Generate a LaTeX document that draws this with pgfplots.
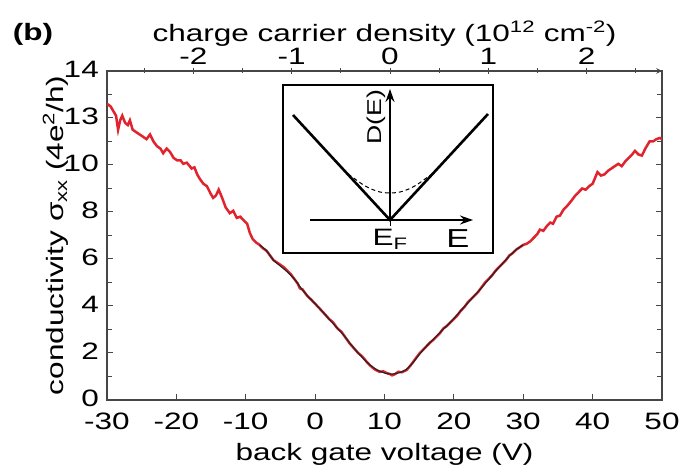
\documentclass[border=0pt]{standalone}
\usepackage{fontspec}
\setmainfont{Liberation Sans}[FakeStretch=1.33]
\usepackage{pgfplots}
\pgfplotsset{compat=1.18}
\usetikzlibrary{arrows.meta}

\definecolor{curvered}{RGB}{225,35,45}
\definecolor{framegray}{RGB}{70,70,70}

% measured conductivity (red, noisy)
\pgfplotstableread{
V sigma
-30.0 12.6
-29.5 12.5
-29.1 12.3
-28.7 12.1
-28.4 11.5
-28.1 11.9
-27.8 12.1
-27.4 11.8
-27.0 11.7
-26.7 11.9
-26.3 11.5
-25.8 11.4
-25.3 11.3
-24.8 11.2
-24.3 11.1
-23.8 11.3
-23.3 11.0
-22.8 10.8
-22.3 10.7
-21.9 10.5
-21.4 10.7
-20.9 10.55
-20.4 10.3
-19.9 10.2
-19.4 10.2
-19.0 10.05
-18.5 10.1
-17.8 9.85
-17.4 9.9
-17.0 9.6
-16.6 9.4
-16.1 9.2
-15.6 9.1
-15.1 8.8
-14.7 8.6
-14.3 8.7
-13.9 8.95
-13.4 8.6
-12.9 8.2
-12.3 7.95
-11.8 8.05
-11.3 7.75
-10.8 7.8
-10.3 7.65
-9.8 7.5
-9.4 7.1
-9.0 6.85
-8.5 6.7
-8.0 6.6
-7.5 6.45
-7.0 6.35
-6.5 6.15
-6.0 5.95
-5.5 5.85
-5.0 5.75
-4.5 5.65
-4.0 5.5
-3.5 5.35
-3.0 5.15
-2.5 4.95
-2.2 4.75
-1.8 4.7
-1.2 4.45
-0.5 4.25
0.3 4.0
1.0 3.78
1.5 3.62
2.0 3.45
2.6 3.3
3.2 3.05
3.8 2.9
4.4 2.65
5.0 2.4
5.6 2.2
6.2 2.0
6.8 1.85
7.5 1.6
8.0 1.45
8.6 1.3
9.3 1.2
9.8 1.22
10.3 1.15
10.8 1.1
11.1 1.05
11.5 1.1
12.0 1.2
12.5 1.18
13.2 1.28
13.7 1.45
14.2 1.65
14.7 1.85
15.1 2.0
15.6 2.15
16.1 2.3
16.6 2.45
17.0 2.55
17.5 2.7
18.0 2.85
18.5 3.05
19.0 3.15
19.5 3.3
20.0 3.45
20.5 3.6
21.0 3.8
21.5 3.95
22.0 4.15
22.5 4.3
23.0 4.45
23.5 4.6
24.0 4.8
24.5 5.0
25.0 5.15
25.5 5.3
26.0 5.5
26.5 5.65
27.0 5.8
27.5 5.95
28.0 6.15
28.5 6.25
29.0 6.4
29.5 6.5
30.0 6.6
30.5 6.65
31.0 6.75
31.5 6.9
32.0 7.05
32.4 7.25
32.9 7.2
33.4 7.4
33.9 7.55
34.3 7.5
34.8 7.8
35.3 7.85
35.8 8.1
36.3 8.25
37.0 8.5
37.5 8.7
38.0 8.85
38.5 9.0
39.0 8.95
39.5 9.1
40.0 9.2
40.7 9.7
41.2 9.55
41.7 9.6
42.2 9.75
42.7 9.85
43.2 9.95
43.7 10.05
44.2 9.95
44.7 10.15
45.2 10.3
45.7 10.45
46.1 10.6
46.6 10.45
47.1 10.4
47.6 10.7
48.2 11.0
48.7 11.0
49.2 11.1
49.7 11.15
50.0 11.1
}\measured

% fit (black)
\pgfplotstableread{
V sigma
-8 6.6
-7 6.35
-6 5.95
-5 5.7
-4 5.45
-3 5.15
-2 4.75
-1 4.4
0 4.1
1 3.78
2 3.45
3 3.12
4 2.8
5 2.42
6 2.07
7 1.75
8 1.47
9 1.27
10 1.15
11 1.1
12 1.15
13 1.27
14 1.55
15 1.93
16 2.28
17 2.57
18 2.87
19 3.17
20 3.47
21 3.8
22 4.13
23 4.45
24 4.78
25 5.13
26 5.48
27 5.8
28 6.13
29 6.4
30 6.6
}\fitcurve

\begin{document}
\begin{tikzpicture}[font=\fontsize{23.7bp}{28bp}\selectfont]
\path[use as bounding box] (0,0) rectangle (691bp,465bp);

\pgfplotsset{
  every axis/.append style={
    scale only axis,
    tick align=inside,
    /pgf/number format/assume math mode=true,
    every tick/.style={framegray, line width=1bp},
    axis line style={framegray, line width=1.5bp},
  },
}

\begin{axis}[
  at={(107bp,65bp)}, anchor=south west,
  width=555bp, height=329bp,
  xmin=-30, xmax=50, ymin=0, ymax=14,
  xtick={-30,-20,...,50},
  xticklabels={-30,-20,-10,0,10,20,30,40,50},
  ytick={0,2,...,14},
  yticklabels={0,2,4,6,8,10,13,14},
  minor ytick={1,3,...,13},
  xtick pos=left, ytick pos=both,
  major tick length=6bp, minor tick length=5bp,
  xticklabel style={inner sep=1bp, yshift=-12bp},
  yticklabel style={inner sep=1bp, xshift=-7bp, yshift=2bp},
  xlabel={back gate voltage (V)},
  xlabel style={yshift=-9bp},
  ylabel={conductivity σ\textsubscript{xx} (4e\textsuperscript{2}/h)},
  ylabel shift=-9bp,
]
\addplot[curvered, line width=2.5bp] table[x=V, y=sigma] {\measured};
\addplot[black!85, line width=1.2bp, smooth] table[x=V, y=sigma] {\fitcurve};
\end{axis}

\begin{axis}[
  at={(107bp,65bp)}, anchor=south west,
  width=555bp, height=329bp,
  xmin=-2.879, xmax=2.767, ymin=0, ymax=14,
  axis x line=top, axis y line=none,
  xtick={-2,-1,0,1,2},
  xticklabels={-2,-1,0,1,2},
  minor xtick={-2.5,-1.5,...,2.5},
  major tick length=6bp, minor tick length=5bp,
  xlabel={charge carrier density (10\textsuperscript{12} cm\textsuperscript{-2})},
  xlabel style={yshift=-6bp},
]
\end{axis}

\begin{axis}[
  at={(283bp,212bp)}, anchor=south west,
  width=210bp, height=168bp,
  xmin=-107, xmax=103, ymin=-33, ymax=135,
  xtick=\empty, ytick=\empty,
  axis line style={black, line width=1.5bp},
  axis background/.style={fill=white},
  clip=false,
]
\addplot[black, line width=1.3bp, -{Stealth[length=13bp,width=9bp]}] coordinates {(-80,0) (83,0)};
\addplot[black, line width=1.3bp, -{Stealth[length=13bp,width=9bp]}] coordinates {(0,0) (0,131)};
\addplot[black, line width=1bp] coordinates {(0,0) (0,-6)};
\addplot[black, line width=2.6bp] coordinates {(-97,105) (0,0) (98,106)};
\addplot[black, line width=1bp, dash pattern=on 4bp off 3bp, smooth] coordinates {
  (-42,46) (-35,41) (-28,36) (-20,31.5) (-10,28) (0,27) (10,28) (20,31.5) (28,36) (35,41) (42,46)};
\node[rotate=90, font=\fontsize{20bp}{24bp}\selectfont] at (axis cs:-14,103) {D(E)};
\node at (axis cs:0,-19) {E\textsubscript{F}};
\node[font=\fontsize{26bp}{30bp}\selectfont] at (axis cs:68,-19) {E};
\end{axis}

\node[font=\fontsize{23.7bp}{28bp}\selectfont\bfseries] at (33bp,431bp) {(b)};
\end{tikzpicture}
\end{document}
